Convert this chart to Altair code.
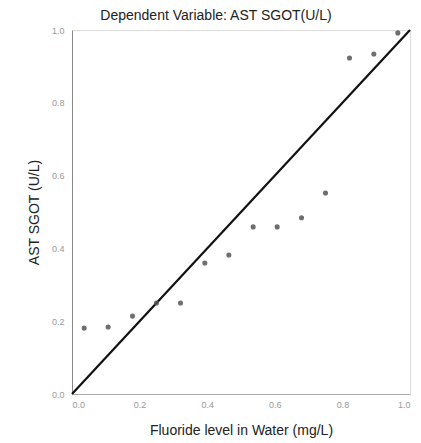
import altair as alt
import pandas as pd

observed = [0.036, 0.107, 0.179, 0.250, 0.321, 0.393, 0.464, 0.536, 0.607, 0.679, 0.750, 0.821, 0.893, 0.964]
expected = [0.181, 0.184, 0.214, 0.250, 0.250, 0.360, 0.382, 0.459, 0.459, 0.484, 0.552, 0.923, 0.934, 0.992]
ref_line = [0.0, 1.0]
ticks = [0.0, 0.2, 0.4, 0.6, 0.8, 1.0]

pts = pd.DataFrame({"x": observed, "y": expected})
line_df = pd.DataFrame({"x": ref_line, "y": ref_line})

xscale = alt.Scale(domain=[0, 1], nice=False, zero=False)
yscale = alt.Scale(domain=[0, 1], nice=False, zero=False)

xaxis = alt.Axis(title="Fluoride level in Water (mg/L)", values=ticks, format=".1f",
                 grid=False, ticks=False, labelFontSize=9, labelColor="#999",
                 titleFontSize=14, titleFontWeight="normal", titleColor="#222",
                 titlePadding=14, domainColor="#aaa", labelPadding=6, titleFont="Liberation Sans",
                 labelFont="Liberation Sans")
yaxis = alt.Axis(title="AST SGOT (U/L)", values=ticks, format=".1f",
                 grid=False, ticks=False, labelFontSize=9, labelColor="#999",
                 titleFontSize=14, titleFontWeight="normal", titleColor="#222",
                 titlePadding=10, domainColor="#888", labelPadding=8, titleFont="Liberation Sans",
                 labelFont="Liberation Sans")

points = alt.Chart(pts).mark_point(filled=True, size=26, color="#555", opacity=0.85).encode(
    x=alt.X("x:Q", scale=xscale, axis=xaxis),
    y=alt.Y("y:Q", scale=yscale, axis=yaxis),
)

line = alt.Chart(line_df).mark_line(color="#111", strokeWidth=2.2).encode(
    x=alt.X("x:Q", scale=xscale),
    y=alt.Y("y:Q", scale=yscale),
)

chart = (line + points).properties(
    width=338, height=364,
    title=alt.TitleParams("Dependent Variable: AST SGOT(U/L)", fontSize=14, fontWeight="normal",
                          color="#222", font="Liberation Sans", anchor="middle", offset=3, dx=-25),
    autosize=alt.AutoSizeParams(type="none"),
    padding={"left": 64, "top": 22, "right": 3, "bottom": 49},
).configure_view(stroke=None).configure(background="white")

chart.save("out.html", embed_options={"renderer": "svg", "actions": False})
